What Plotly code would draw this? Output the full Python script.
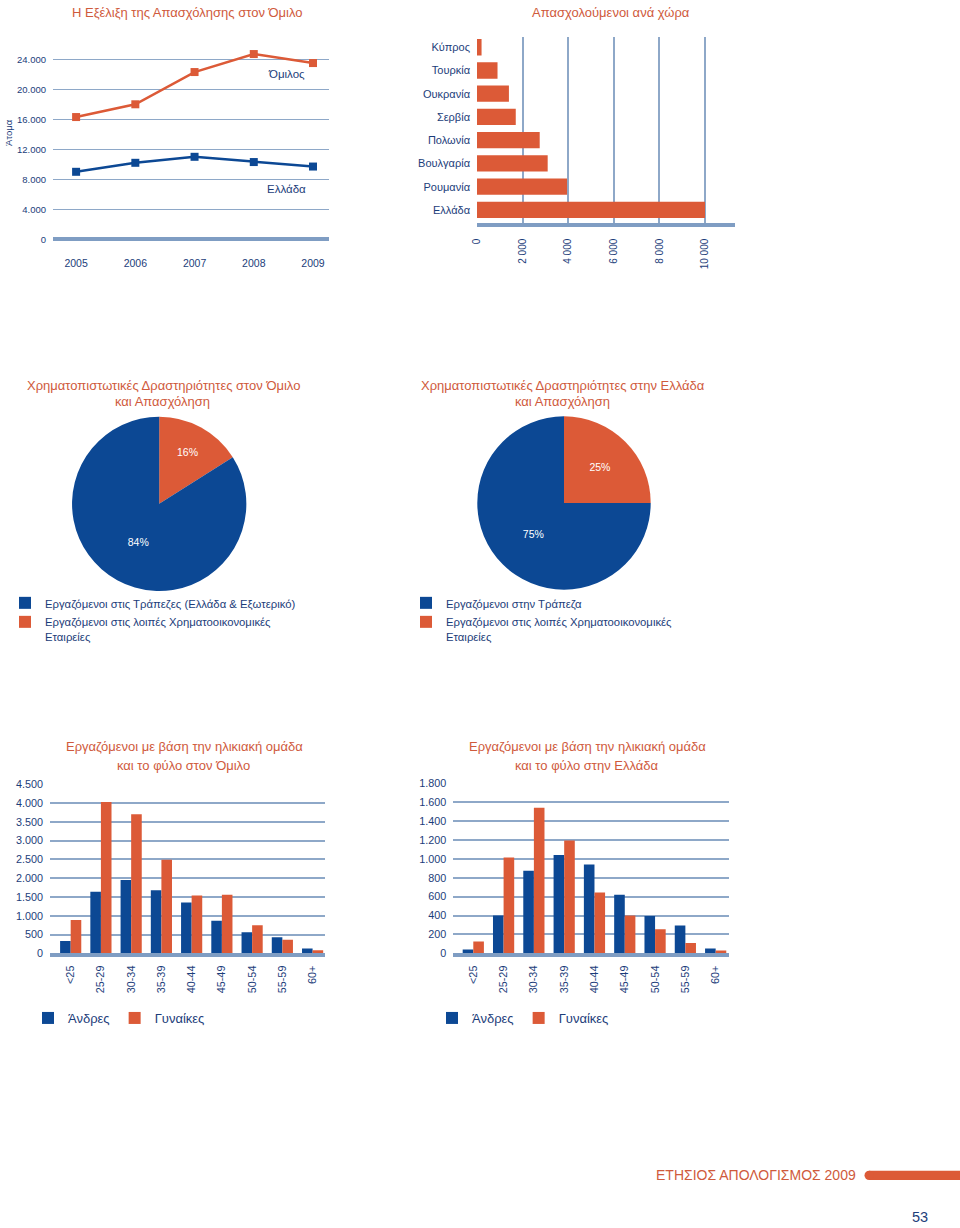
import plotly.graph_objects as go

W, H = 960, 1228


def X(px):
    return px / W


def Y(py):
    return 1 - py / H


ORANGE = "#dc5a37"
BLUE = "#0c4894"
TEXT = "#1c3d7a"
TITLE = "#cf5a3c"
GRID = "#8ea8c8"
AXIS = "#7f9dc3"
FONT = "Liberation Sans, Arial, sans-serif"

# ---------------- data ----------------
years = ["2005", "2006", "2007", "2008", "2009"]
group_staff = [16300, 18000, 22300, 24700, 23500]
greece_staff = [9000, 10200, 11000, 10300, 9700]
line_yticks = [0, 4000, 8000, 12000, 16000, 20000, 24000]
line_yticktext = ["0", "4.000", "8.000", "12.000", "16.000", "20.000", "24.000"]

countries = ["Κύπρος", "Τουρκία", "Ουκρανία", "Σερβία", "Πολωνία", "Βουλγαρία", "Ρουμανία", "Ελλάδα"]
country_staff = [200, 900, 1400, 1700, 2750, 3100, 3950, 10000]
country_xticks = [0, 2000, 4000, 6000, 8000, 10000]
country_xticktext = ["0", "2 000", "4 000", "6 000", "8 000", "10 000"]

pie_group_labels = ["Εργαζόμενοι στις λοιπές Χρηματοοικονομικές<br>Εταιρείες",
                    "Εργαζόμενοι στις Τράπεζες (Ελλάδα & Εξωτερικό)"]
pie_group_values = [16, 84]
pie_greece_labels = ["Εργαζόμενοι στις λοιπές Χρηματοοικονομικές<br>Εταιρείες",
                     "Εργαζόμενοι στην Τράπεζα"]
pie_greece_values = [25, 75]

age_groups = ["<25", "25-29", "30-34", "35-39", "40-44", "45-49", "50-54", "55-59", "60+"]
group_men = [330, 1640, 1950, 1680, 1350, 870, 560, 430, 130]
group_women = [890, 4030, 3700, 2490, 1540, 1560, 750, 360, 80]
group_yticks = [0, 500, 1000, 1500, 2000, 2500, 3000, 3500, 4000, 4500]
group_yticktext = ["0", "500", "1.000", "1.500", "2.000", "2.500", "3.000", "3.500", "4.000", "4.500"]
greece_men = [40, 400, 875, 1040, 940, 620, 395, 295, 50]
greece_women = [125, 1015, 1540, 1195, 645, 400, 255, 110, 30]
greece_yticks = [0, 200, 400, 600, 800, 1000, 1200, 1400, 1600, 1800]
greece_yticktext = ["0", "200", "400", "600", "800", "1.000", "1.200", "1.400", "1.600", "1.800"]

gender_names = ["Άνδρες", "Γυναίκες"]

fig = go.Figure()

# ---------------- line chart ----------------
fig.add_trace(go.Scatter(x=years, y=group_staff, mode="lines+markers", xaxis="x", yaxis="y",
                         line=dict(color=ORANGE, width=2.5),
                         marker=dict(symbol="square", size=8, color=ORANGE),
                         showlegend=False, cliponaxis=False))
fig.add_trace(go.Scatter(x=years, y=greece_staff, mode="lines+markers", xaxis="x", yaxis="y",
                         line=dict(color=BLUE, width=2.5),
                         marker=dict(symbol="square", size=8, color=BLUE),
                         showlegend=False, cliponaxis=False))

# ---------------- horizontal bars ----------------
fig.add_trace(go.Bar(y=countries, x=country_staff, orientation="h", xaxis="x2", yaxis="y2",
                     marker=dict(color=ORANGE, line=dict(width=0)), showlegend=False))

# ---------------- pies ----------------
fig.add_trace(go.Pie(labels=pie_group_labels, values=pie_group_values, sort=False,
                     direction="counterclockwise", rotation=0,
                     marker=dict(colors=[ORANGE, BLUE], line=dict(width=0)),
                     texttemplate="%{percent:.0%}", textposition="inside",
                     insidetextorientation="horizontal",
                     textfont=dict(color="white", size=10.5, family=FONT),
                     domain=dict(x=[X(71.7), X(246.7)], y=[Y(591), Y(416.7)]),
                     legend="legend", legendgroup="pie1"))
fig.add_trace(go.Pie(labels=pie_greece_labels, values=pie_greece_values, sort=False,
                     direction="counterclockwise", rotation=0,
                     marker=dict(colors=[ORANGE, BLUE], line=dict(width=0)),
                     texttemplate="%{percent:.0%}", textposition="inside",
                     insidetextorientation="horizontal",
                     textfont=dict(color="white", size=10.5, family=FONT),
                     domain=dict(x=[X(477.3), X(650.7)], y=[Y(590), Y(416)]),
                     legend="legend2", legendgroup="pie2"))

# ---------------- age bars ----------------
fig.add_trace(go.Bar(x=age_groups, y=group_men, name=gender_names[0], xaxis="x3", yaxis="y3",
                     marker=dict(color=BLUE, line=dict(width=0)), legend="legend3"))
fig.add_trace(go.Bar(x=age_groups, y=group_women, name=gender_names[1], xaxis="x3", yaxis="y3",
                     marker=dict(color=ORANGE, line=dict(width=0)), legend="legend3"))
fig.add_trace(go.Bar(x=age_groups, y=greece_men, name=gender_names[0], xaxis="x4", yaxis="y4",
                     marker=dict(color=BLUE, line=dict(width=0)), legend="legend4"))
fig.add_trace(go.Bar(x=age_groups, y=greece_women, name=gender_names[1], xaxis="x4", yaxis="y4",
                     marker=dict(color=ORANGE, line=dict(width=0)), legend="legend4"))

tickfont = lambda s: dict(family=FONT, size=s, color=TEXT)

layout = dict(
    width=W, height=H, margin=dict(l=0, r=0, t=0, b=0, pad=0, autoexpand=False),
    paper_bgcolor="white", plot_bgcolor="white",
    font=dict(family=FONT, color=TEXT),
    barmode="group", bargap=0.30, bargroupgap=0,
    showlegend=True,
    # line chart
    xaxis=dict(domain=[X(53), X(329)], anchor="y", type="category", range=[-0.39, 4.27],
               showgrid=False, zeroline=False, showline=False, ticks="",
               tickfont=tickfont(10.5), ticklabelstandoff=16),
    yaxis=dict(domain=[Y(239.3), Y(40)], anchor="x", range=[0, 26573],
               tickvals=line_yticks, ticktext=line_yticktext, tickfont=tickfont(9.5),
               showgrid=True, gridcolor=GRID, gridwidth=1.3,
               zeroline=True, zerolinecolor=AXIS, zerolinewidth=4,
               ticks="", ticklabelstandoff=6, showline=False),
    # horizontal bars
    xaxis2=dict(domain=[X(477), X(735)], anchor="y2", range=[0, 11316],
                tickvals=country_xticks, ticktext=country_xticktext, tickangle=-90,
                tickfont=tickfont(10), showgrid=False, zeroline=False,
                minor=dict(tickvals=country_xticks[1:], showgrid=True, gridcolor=GRID, gridwidth=1.5, ticks=""),
                showline=True, linecolor=AXIS, linewidth=4, ticks="", ticklabelstandoff=8),
    yaxis2=dict(domain=[Y(222.7), Y(36.8)], anchor="x2", type="category", range=[7.55, -0.45],
                showgrid=False, zeroline=False, showline=False, ticks="",
                tickfont=tickfont(11), ticklabelstandoff=6),
    # age bars (group)
    xaxis3=dict(domain=[X(50), X(325)], anchor="y3", type="category", range=[-0.684, 8.41],
                tickangle=-90, tickfont=tickfont(10.8), ticks="", showgrid=False,
                zeroline=False, showline=True, linecolor=AXIS, linewidth=4, ticklabelstandoff=4),
    yaxis3=dict(domain=[Y(953.3), Y(784.3)], anchor="x3", range=[0, 4500],
                tickvals=group_yticks, ticktext=group_yticktext, tickfont=tickfont(10.8),
                showgrid=True, gridcolor=GRID, gridwidth=1.5, zeroline=False, ticks="",
                ticklabelstandoff=6),
    # age bars (greece)
    xaxis4=dict(domain=[X(453.3), X(729.3)], anchor="y4", type="category", range=[-0.66, 8.45],
                tickangle=-90, tickfont=tickfont(10.8), ticks="", showgrid=False,
                zeroline=False, showline=True, linecolor=AXIS, linewidth=4, ticklabelstandoff=4),
    yaxis4=dict(domain=[Y(953.3), Y(783.3)], anchor="x4", range=[0, 1800],
                tickvals=greece_yticks, ticktext=greece_yticktext, tickfont=tickfont(10.8),
                showgrid=True, gridcolor=GRID, gridwidth=1.5, zeroline=False, ticks="",
                ticklabelstandoff=6),
    legend=dict(x=X(5), y=Y(589), xanchor="left", yanchor="top", valign="top",
                font=dict(family=FONT, size=11.3, color=TEXT), bgcolor="rgba(0,0,0,0)",
                tracegroupgap=0, itemwidth=30, traceorder="reversed"),
    legend2=dict(x=X(406), y=Y(589), xanchor="left", yanchor="top", valign="top",
                 font=dict(family=FONT, size=11.3, color=TEXT), bgcolor="rgba(0,0,0,0)",
                 tracegroupgap=0, itemwidth=30, traceorder="reversed"),
    legend3=dict(x=X(28), y=Y(1003), xanchor="left", yanchor="top", orientation="h",
                 font=dict(family=FONT, size=13, color=TEXT), bgcolor="rgba(0,0,0,0)",
                 itemwidth=30),
    legend4=dict(x=X(432), y=Y(1003), xanchor="left", yanchor="top", orientation="h",
                 font=dict(family=FONT, size=13, color=TEXT), bgcolor="rgba(0,0,0,0)",
                 itemwidth=30),
)
fig.update_layout(**layout)


def ann(text, px, py, size, color, xanchor="center", textangle=0):
    fig.add_annotation(text=text, x=X(px), y=Y(py), xref="paper", yref="paper",
                       xanchor=xanchor, yanchor="middle", showarrow=False, textangle=textangle,
                       font=dict(family=FONT, size=size, color=color))


TS = 13
ann("Η Εξέλιξη της Απασχόλησης στον Όμιλο", 187, 12, TS, TITLE)
ann("Απασχολούμενοι ανά χώρα", 611, 12, TS, TITLE)
ann("Άτομα", 8, 133, 9.5, TEXT, textangle=-90)
ann("Όμιλος", 286, 74, 11.5, TEXT)
ann("Ελλάδα", 286, 189, 11.5, TEXT)
ann("Χρηματοπιστωτικές Δραστηριότητες στον Όμιλο", 163, 385, TS, TITLE)
ann("και Απασχόληση", 162, 402, TS, TITLE)
ann("Χρηματοπιστωτικές Δραστηριότητες στην Ελλάδα", 563, 385, TS, TITLE)
ann("και Απασχόληση", 562, 402, TS, TITLE)
ann("Εργαζόμενοι με βάση την ηλικιακή ομάδα", 184, 746.7, TS, TITLE)
ann("και το φύλο στον Όμιλο", 183, 765, TS, TITLE)
ann("Εργαζόμενοι με βάση την ηλικιακή ομάδα", 587, 746.7, TS, TITLE)
ann("και το φύλο στην Ελλάδα", 587, 765, TS, TITLE)
ann("ΕΤΗΣΙΟΣ ΑΠΟΛΟΓΙΣΜΟΣ 2009", 858.3, 1175, 14, TITLE, xanchor="right")
ann("53", 920, 1217, 14.5, TEXT)

# footer decorative bar
fig.add_shape(type="rect", xref="paper", yref="paper", x0=X(869), x1=X(960), y0=Y(1180), y1=Y(1170.7),
              fillcolor=ORANGE, line=dict(width=0))
fig.add_shape(type="circle", xref="paper", yref="paper", x0=X(864.5), x1=X(873.8), y0=Y(1180), y1=Y(1170.7),
              fillcolor=ORANGE, line=dict(width=0))

fig.write_html("out.html", config={"displayModeBar": False},
               post_script="document.body.style.margin='0px';")
